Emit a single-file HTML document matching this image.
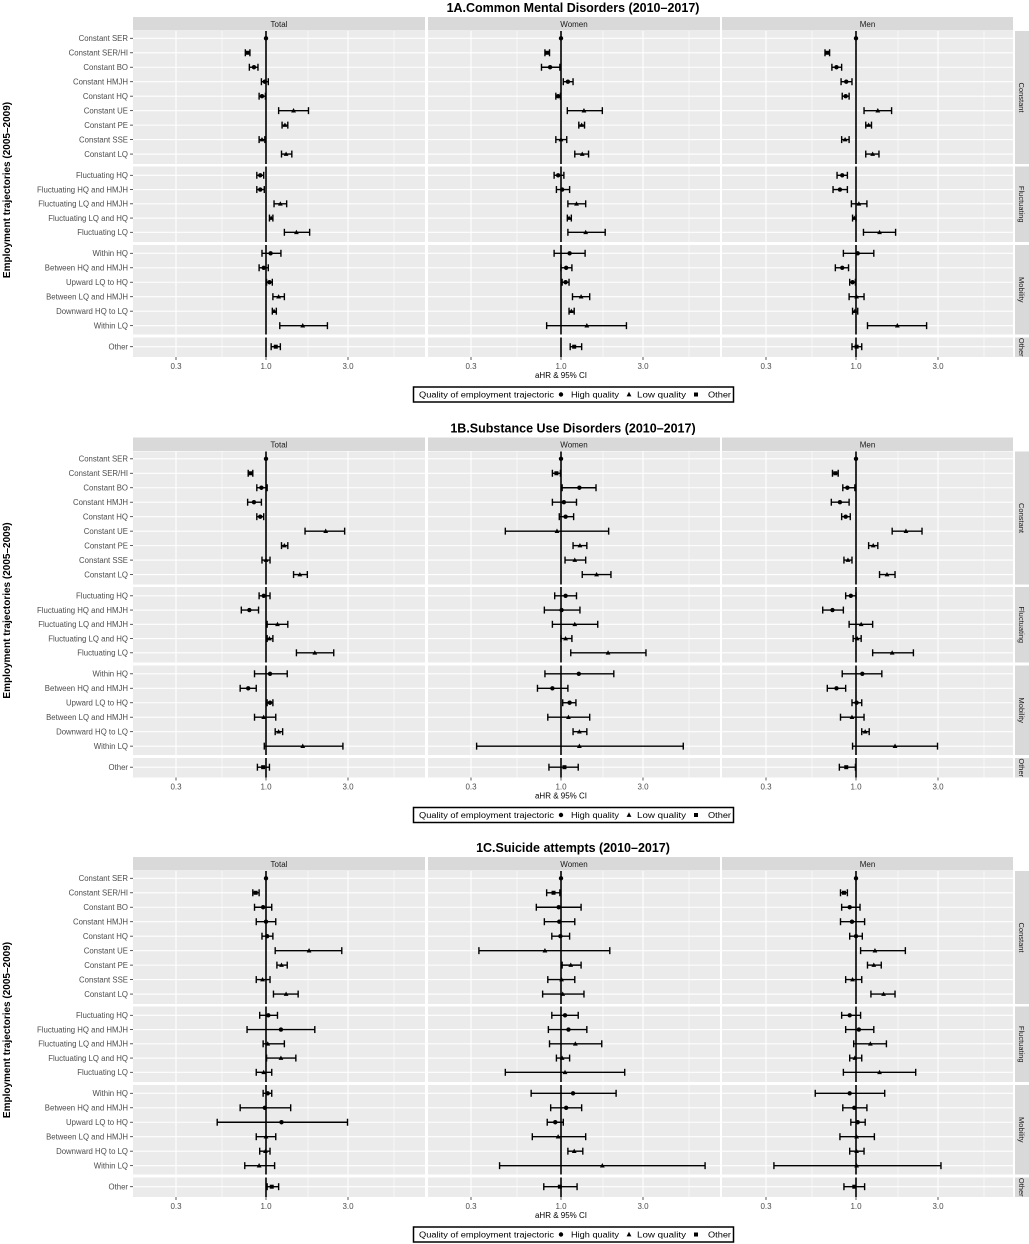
<!DOCTYPE html>
<html><head><meta charset="utf-8"><style>
html,body{margin:0;padding:0;background:#fff;}
svg{display:block;font-family:"Liberation Sans",sans-serif;}
</style></head><body>
<svg id="s" width="1029" height="1244" viewBox="0 0 1029 1244" xmlns="http://www.w3.org/2000/svg"></svg>
<script>
const rows=["Constant SER","Constant SER/HI","Constant BO","Constant HMJH","Constant HQ","Constant UE","Constant PE","Constant SSE","Constant LQ",
"Fluctuating HQ","Fluctuating HQ and HMJH","Fluctuating LQ and HMJH","Fluctuating LQ and HQ","Fluctuating LQ",
"Within HQ","Between HQ and HMJH","Upward LQ to HQ","Between LQ and HMJH","Downward HQ to LQ","Within LQ","Other"];
const shp=["c","s","c","c","c","t","t","t","t","c","c","t","t","t","c","c","c","t","t","t","s"];
const rowY=[];
for(let i=0;i<9;i++)rowY.push(38.3+i*14.47);
for(let i=0;i<5;i++)rowY.push(175.3+i*14.25);
for(let i=0;i<6;i++)rowY.push(253.3+i*14.47);
rowY.push(346.7);
const titles=["1A.Common Mental Disorders (2010\u20132017)","1B.Substance Use Disorders (2010\u20132017)","1C.Suicide attempts (2010\u20132017)"];
const D=[
[ // A
[[0,0,0],[-36,-32,-28],[-29,-21,-14],[-8,-2,4],[-12,-7,-1],[22,48,74],[28,33,38],[-12,-7,-2],[27,35,45],[-16,-10,-4],[-16,-10,-3],[14,25,36],[6,9,12],[32,53,76],[-7,8,26],[-12,-4,4],[1,6,11],[12,22,32],[11,14,18],[24,64,107],[9,17,25]],
[[0,0,0],[-28,-24,-20],[-34,-19,-2],[4,12,21],[-9,-5,-1],[11,40,72],[31,36,41],[-9,0,10],[24,37,48],[-12,-5,5],[-8,2,15],[12,27,43],[11,14,18],[12,43,77],[-12,15,42],[0,9,19],[2,8,14],[20,35,50],[14,18,23],[-25,45,114],[16,23,36]],
[[0,0,0],[-54,-50,-46],[-42,-34,-25],[-26,-17,-7],[-24,-18,-12],[14,38,62],[17,22,27],[-25,-19,-12],[17,29,40],[-33,-24,-15],[-40,-28,-15],[-8,5,19],[-6,-3,0],[13,41,69],[-22,3,31],[-36,-24,-13],[-11,-6,-1],[-12,1,14],[-6,-2,3],[20,72,123],[-7,1,10]]
],[ // B
[[0,0,0],[-31,-27,-23],[-16,-8,2],[-32,-21,-8],[-16,-10,-4],[68,104,137],[27,32,38],[-7,0,7],[48,59,72],[-12,-4,7],[-43,-29,-13],[2,20,38],[2,6,12],[53,85,118],[-20,7,37],[-45,-31,-17],[2,7,12],[-20,-4,17],[16,22,29],[-3,64,134],[-15,-5,6]],
[[0,0,0],[-15,-8,-1],[2,32,61],[-15,5,27],[-3,8,22],[-97,-7,83],[21,33,45],[7,24,43],[37,62,87],[-11,8,27],[-29,1,33],[-15,24,64],[0,8,19],[17,82,148],[-28,31,92],[-41,-15,12],[3,15,26],[-23,13,50],[21,32,45],[-147,32,213],[-21,6,30]],
[[0,0,0],[-41,-36,-31],[-23,-15,-2],[-43,-28,-12],[-25,-18,-10],[63,87,115],[22,30,38],[-21,-14,-7],[41,54,68],[-18,-9,0],[-58,-41,-22],[-12,9,29],[-5,2,9],[29,63,100],[-24,11,45],[-50,-34,-18],[-7,1,10],[-27,-7,14],[10,16,23],[-6,68,142],[-29,-17,-1]]
],[ // C
[[0,0,0],[-23,-18,-12],[-20,-5,10],[-17,0,17],[-7,2,12],[16,75,132],[19,27,37],[-17,-6,7],[13,35,56],[-11,4,20],[-33,26,85],[-5,3,32],[1,26,52],[-17,-4,10],[-5,3,10],[-45,-2,43],[-85,27,142],[-17,0,17],[-11,-1,7],[-37,-12,15],[2,10,22]],
[[0,0,0],[-25,-13,-2],[-43,-4,35],[-29,-3,24],[-16,-1,15],[-143,-28,85],[2,17,35],[-23,1,24],[-32,3,40],[-16,7,30],[-22,13,45],[-20,25,71],[-8,2,15],[-97,7,111],[-52,21,96],[-18,9,36],[-24,-10,4],[-50,-5,43],[12,23,38],[-107,72,251],[-30,-2,28]],
[[0,0,0],[-27,-21,-15],[-25,-11,7],[-27,-7,15],[-11,0,11],[8,33,86],[20,31,44],[-18,-6,10],[26,48,68],[-25,-11,8],[-18,5,31],[-4,25,53],[-11,-2,10],[-22,41,104],[-71,-11,50],[-23,-3,19],[-9,3,16],[-28,1,32],[-11,1,14],[-143,1,148],[-21,-3,15]]
]];
const panels=[{x0:133,x1:425,c:266,n:"Total"},{x0:428,x1:720,c:561,n:"Women"},{x0:722,x1:1013,c:856,n:"Men"}];
const facets=[[31,164,"Constant"],[166.5,242,"Fluctuating"],[245,334.5,"Mobility"],[337.5,357,"Other"]];
const gridOff=[-90,-44,0,42,82,128];
let h="";
const offs=[0,420.5,840];
for(let k=0;k<3;k++){
 const o=offs[k];
 h+=`<g transform="translate(0,${o})">`;
 h+=`<text x="573" y="12" font-size="12.5" font-weight="bold" text-anchor="middle" fill="#000">${titles[k]}</text>`;
 h+=`<text transform="translate(10,190) rotate(-90)" font-size="10" font-weight="bold" text-anchor="middle" fill="#000">Employment trajectories (2005\u20132009)</text>`;
 for(const f of facets){
  h+=`<rect x="1015" y="${f[0]}" width="14" height="${f[1]-f[0]}" fill="#d9d9d9"/>`;
  h+=`<text transform="translate(1019,${(f[0]+f[1])/2}) rotate(90)" font-size="7.5" text-anchor="middle" fill="#1a1a1a">${f[2]}</text>`;
 }
 panels.forEach((p,pi)=>{
  h+=`<rect x="${p.x0}" y="17" width="${p.x1-p.x0}" height="13.5" fill="#d9d9d9"/>`;
  h+=`<text x="${(p.x0+p.x1)/2}" y="27" font-size="8" text-anchor="middle" fill="#1a1a1a">${p.n}</text>`;
  for(const f of facets){
   h+=`<rect x="${p.x0}" y="${f[0]}" width="${p.x1-p.x0}" height="${f[1]-f[0]}" fill="#ebebeb"/>`;
   gridOff.forEach((g,gi)=>{h+=`<line x1="${p.c+g}" x2="${p.c+g}" y1="${f[0]}" y2="${f[1]}" stroke="#fff" stroke-width="${gi%2==1?0.6:1.1}"/>`;});
  }
  rowY.forEach(y=>{h+=`<line x1="${p.x0}" x2="${p.x1}" y1="${y}" y2="${y}" stroke="#fff" stroke-width="1.1"/>`;});
  for(const f of facets){h+=`<line x1="${p.c}" x2="${p.c}" y1="${f[0]}" y2="${f[1]}" stroke="#000" stroke-width="1.6"/>`;}
  [["0.3",-90],["1.0",0],["3.0",82]].forEach(t=>{
   h+=`<line x1="${p.c+t[1]}" x2="${p.c+t[1]}" y1="357" y2="360" stroke="#333" stroke-width="0.8"/>`;
   h+=`<text x="${p.c+t[1]}" y="369" font-size="8" text-anchor="middle" fill="#4d4d4d">${t[0]}</text>`;
  });
  const dd=D[k][pi];
  dd.forEach((r,i)=>{
   const y=rowY[i];const lo=p.c+r[0]/1.742,pt=p.c+r[1]/1.742,hi=p.c+r[2]/1.742;
   if(r[2]-r[0]>0){
    h+=`<line x1="${lo}" x2="${hi}" y1="${y}" y2="${y}" stroke="#000" stroke-width="1.4"/>`;
    h+=`<line x1="${lo}" x2="${lo}" y1="${y-3.5}" y2="${y+3.5}" stroke="#000" stroke-width="1.4"/>`;
    h+=`<line x1="${hi}" x2="${hi}" y1="${y-3.5}" y2="${y+3.5}" stroke="#000" stroke-width="1.4"/>`;
   }
   const s=shp[i];
   if(s=="c")h+=`<circle cx="${pt}" cy="${y}" r="2.2" fill="#000"/>`;
   else if(s=="s")h+=`<rect x="${pt-2}" y="${y-2}" width="4" height="4" fill="#000"/>`;
   else h+=`<polygon points="${pt},${y-2.6} ${pt-2.4},${y+1.8} ${pt+2.4},${y+1.8}" fill="#000"/>`;
  });
 });
 rows.forEach((r,i)=>{
  h+=`<text x="128" y="${rowY[i]+2.8}" font-size="7.8" text-anchor="end" fill="#4d4d4d">${r}</text>`;
  h+=`<line x1="130" x2="133" y1="${rowY[i]}" y2="${rowY[i]}" stroke="#333" stroke-width="0.8"/>`;
 });
 h+=`<text x="561" y="378" font-size="8" text-anchor="middle" fill="#000">aHR &amp; 95% CI</text>`;
 h+=`<rect x="413.5" y="387" width="320" height="15" fill="#fff" stroke="#000" stroke-width="1.5"/>`;
 h+=`<text x="419" y="397.5" font-size="7.8" fill="#000" textLength="135" lengthAdjust="spacingAndGlyphs">Quality of employment trajectoric</text>`;
 h+=`<circle cx="561" cy="394.5" r="2.2" fill="#000"/><text x="571" y="397.5" font-size="7.8" fill="#000" textLength="48" lengthAdjust="spacingAndGlyphs">High quality</text>`;
 h+=`<polygon points="629,391.8 626.6,396.4 631.4,396.4" fill="#000"/><text x="637" y="397.5" font-size="7.8" fill="#000" textLength="49" lengthAdjust="spacingAndGlyphs">Low quality</text>`;
 h+=`<rect x="694" y="392.5" width="4" height="4" fill="#000"/><text x="708" y="397.5" font-size="7.8" fill="#000" textLength="23" lengthAdjust="spacingAndGlyphs">Other</text>`;
 h+=`</g>`;
}
document.getElementById("s").innerHTML=h;
</script>
</body></html>
